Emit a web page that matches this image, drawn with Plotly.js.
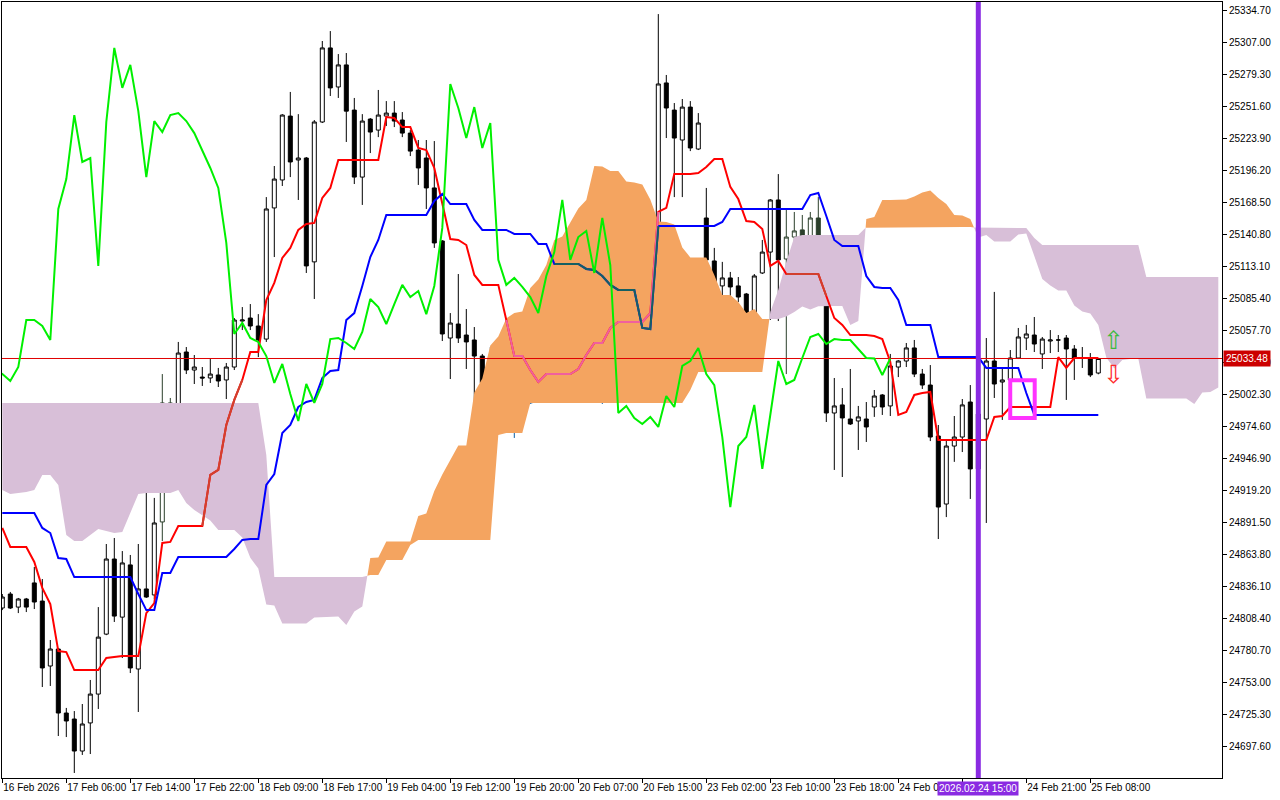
<!DOCTYPE html>
<html><head><meta charset="utf-8">
<script src="https://cdn.plot.ly/plotly-3.0.1.min.js"></script>
<style>html,body{margin:0;padding:0;background:#fff;}#chart{width:1280px;height:800px;}</style>
</head><body><div id="chart"></div>
<script>
// ---- price data (H1 bars, index 0..137) ----
const openP = [24817.5,24829.6,24818.3,24825.3,24839.2,24823.5,24767.3,24782.0,24726.6,24721.4,
24693.7,24718.0,24743.0,24794.9,24859.9,24809.6,24854.8,24764.7,24834.0,24828.8,
24892.0,24995.0,24966.4,25039.1,25023.5,25017.4,25016.6,25019.2,25014.9,25026.1,
25065.9,25068.5,25061.6,25050.3,25163.8,25188.0,25243.3,25205.3,25207.0,25117.1,
25238.2,25302.3,25268.5,25287.6,25248.5,25190.5,25240.7,25231.2,25243.3,25245.9,
25239.9,25228.6,25213.9,25207.0,25181.1,25135.2,25051.2,25063.3,25053.8,25049.5,
25035.6,25012.3,25028.7,25002.7,24981.1,25010.5,24995.0,25035.6,25050.3,25051.2,
25046.9,25041.7,25056.4,25082.4,25078.8,25056.4,25079.7,25098.9,25084.1,25091.1,
25070.2,25096.3,25149.9,25272.0,25248.5,25222.6,25251.1,25214.8,25155.1,25117.9,
25096.3,25103.2,25096.3,25089.3,25072.8,25107.5,25125.6,25170.7,25119.6,25138.6,
25144.8,25107.5,25155.1,25114.4,24986.3,24993.3,24981.1,24979.4,24981.1,24991.5,
25001.9,24992.4,25026.1,25031.3,25042.6,25020.0,25010.5,24966.4,24907.5,24957.7,
24965.5,24995.8,24937.9,24981.1,25031.3,25013.1,25014.9,25033.9,25051.2,25053.8,
25037.4,25048.6,25049.5,25051.2,25041.7,25033.9,25033.0,25020.9];
const highP = [24829.6,24831.4,24826.2,24826.2,24853.0,24842.6,24789.8,24782.9,24731.0,24728.3,
24734.4,24755.2,24818.3,24872.9,24878.1,24866.8,24863.4,24872.9,24929.2,24912.8,
25020.0,24999.3,25047.8,25043.4,25036.5,25026.1,25033.0,25025.3,25029.6,25068.5,
25078.0,25080.6,25071.9,25173.2,25200.1,25245.0,25264.2,25245.0,25207.9,25239.9,
25308.3,25316.9,25297.0,25297.9,25259.0,25245.0,25241.6,25265.9,25256.3,25256.3,
25246.8,25231.2,25222.6,25222.6,25221.7,25136.0,25072.8,25106.6,25076.3,25060.7,
25037.4,25043.4,25046.0,25020.9,25016.6,25016.6,25021.8,25059.0,25076.3,25070.2,
25053.8,25059.9,25085.8,25098.0,25091.1,25082.4,25135.2,25126.5,25115.3,25106.6,
25114.4,25151.7,25331.6,25278.9,25254.6,25258.1,25256.3,25245.9,25181.1,25129.2,
25117.1,25108.4,25104.0,25090.2,25106.6,25136.1,25171.5,25193.1,25162.1,25160.3,
25157.7,25160.3,25173.2,25134.3,25016.6,25007.9,25024.4,24992.4,24995.8,25006.2,
25002.7,25037.4,25032.1,25046.9,25049.5,25024.4,25027.8,24975.9,24962.9,24983.7,
24998.4,25010.5,24993.3,25051.2,25091.1,25026.1,25040.8,25059.9,25062.5,25069.4,
25052.1,25058.1,25053.8,25053.8,25045.1,25043.4,25038.2,25034.0];
const lowP = [24815.7,24816.6,24813.1,24814.0,24816.6,24749.1,24750.0,24706.7,24705.8,24674.7,
24690.3,24691.1,24730.1,24794.0,24805.4,24774.2,24761.2,24727.5,24826.2,24825.3,
24875.5,24924.9,24950.8,25020.0,25011.4,25009.7,25012.3,25008.8,24998.4,25023.5,
25058.1,25058.1,25034.7,25047.8,25121.3,25182.8,25190.5,25170.7,25107.5,25085.0,
25237.3,25260.7,25259.0,25220.9,25184.5,25166.4,25211.3,25225.1,25234.7,25233.8,
25225.1,25208.7,25183.7,25162.9,25129.2,25048.6,25015.7,25046.9,25024.4,24987.2,
24971.6,24990.7,24989.8,24971.6,24964.7,24973.4,24994.1,25021.8,25030.5,25027.8,
25038.2,25040.8,25053.8,25073.7,25046.9,24994.1,25066.8,25068.5,25055.5,25057.3,
25055.5,25059.9,25144.8,25224.3,25173.2,25173.2,25213.0,25213.9,25114.4,25091.1,
25082.4,25082.4,25082.4,25059.9,25062.5,25106.6,25066.8,25065.9,25020.0,25123.1,
25091.1,25092.8,25098.0,24978.5,24937.0,24930.9,24975.9,24954.3,24961.2,24982.9,
24984.6,24983.7,25017.4,25026.1,25017.4,25007.1,24962.0,24877.2,24896.2,24944.0,
24952.5,24911.9,24928.3,24891.1,24999.3,24980.3,24991.5,25033.0,25040.8,25039.1,
25024.4,25038.2,25039.1,24997.6,25014.9,25025.3,25017.4,25019.8];
const closeP = [24827.0,24817.5,24825.3,24818.3,24822.7,24765.6,24782.0,24726.6,24719.7,24693.7,
24717.1,24743.0,24792.3,24859.9,24810.5,24856.5,24765.6,24834.0,24827.0,24891.1,
24995.0,24966.4,25038.2,25023.5,25026.1,25016.6,25020.0,25014.0,25026.1,25066.8,
25066.8,25061.6,25049.5,25162.9,25188.8,25244.2,25203.6,25207.0,25113.6,25238.2,
25302.3,25267.7,25287.6,25247.6,25190.5,25239.0,25229.5,25244.2,25245.9,25239.0,
25228.6,25213.0,25198.4,25181.1,25133.5,25054.7,25064.2,25051.2,25047.8,25035.6,
25012.3,25028.7,25002.7,24979.4,25011.4,24995.0,25011.4,25050.3,25051.2,25046.9,
25041.7,25056.4,25085.0,25078.0,25063.3,25080.6,25097.2,25086.7,25091.9,25071.9,
25096.3,25146.5,25271.1,25250.3,25224.3,25251.1,25215.7,25237.3,25118.8,25097.2,
25103.2,25095.4,25086.7,25072.8,25104.9,25125.6,25170.7,25118.8,25138.6,25143.9,
25107.5,25155.1,25114.4,24986.3,24992.4,24982.0,24976.8,24982.9,24974.2,25001.0,
24991.5,25027.0,25031.3,25042.6,25020.0,25010.5,24965.5,24904.9,24957.7,24965.5,
24993.3,24937.9,24985.4,25031.3,25011.4,25014.9,25033.9,25052.1,25054.7,25046.0,
25050.3,25049.5,25049.5,25041.7,25033.9,25033.5,25019.2,25033.48];

// ---- Ichimoku lines ----
const tenkan = [24886.8,24870.3,24870.3,24870.3,24857.4,24834.9,24820.9,24780.2,24779.3,24763.8,
24763.8,24763.8,24763.8,24774.2,24775.1,24776.0,24776.0,24776.0,24813.1,24821.8,
24873.8,24874.7,24888.5,24888.5,24888.5,24888.5,24932.7,24937.0,24975.9,24997.6,
25014.9,25039.1,25039.1,25084.1,25098.9,25120.5,25129.2,25144.8,25149.9,25150.8,
25172.4,25181.1,25205.3,25205.3,25205.3,25205.3,25205.3,25205.3,25242.5,25241.6,
25233.8,25233.8,25215.7,25213.9,25198.4,25166.4,25136.9,25136.1,25131.7,25105.8,
25097.2,25097.2,25097.2,25066.8,25035.6,25035.6,25023.5,25013.1,25020.0,25020.0,
25020.0,25020.0,25024.4,25036.5,25046.9,25046.9,25059.9,25065.1,25065.1,25065.1,
25065.1,25072.8,25160.3,25163.8,25193.1,25193.1,25193.1,25194.0,25199.2,25206.2,
25206.2,25182.0,25171.5,25152.5,25151.7,25145.6,25113.6,25117.9,25106.6,25106.6,
25106.6,25106.6,25106.6,25087.6,25068.5,25062.5,25053.8,25053.8,25053.8,25052.9,
25050.3,25030.5,24984.6,24987.2,25001.9,25003.6,25004.5,24962.9,24962.9,24962.9,
24962.9,24962.9,24962.9,24962.9,24982.9,24983.7,24991.5,24991.5,24991.5,24991.5,
24991.5,24991.5,25034.7,25025.3,25033.9,25033.9,25033.9,25033.9];
const kijun = [24899.7,24899.7,24899.7,24899.7,24899.7,24886.8,24882.4,24860.8,24859.9,24844.3,
24844.3,24844.3,24844.3,24844.3,24844.3,24844.3,24844.3,24829.6,24815.7,24815.7,
24847.8,24847.8,24861.6,24861.6,24861.6,24861.6,24861.6,24861.6,24861.6,24868.6,
24876.4,24877.2,24877.2,24924.0,24933.5,24969.0,24975.9,24991.5,24995.8,24997.6,
25016.6,25022.7,25023.5,25066.8,25072.8,25096.3,25121.3,25136.1,25157.7,25157.7,
25157.7,25157.7,25157.7,25157.7,25169.8,25175.9,25167.2,25167.2,25167.2,25153.4,
25144.8,25144.8,25144.8,25144.8,25141.3,25141.3,25141.3,25132.6,25132.6,25115.3,
25115.3,25115.3,25115.3,25111.0,25110.1,25104.9,25097.2,25092.8,25092.8,25092.8,
25059.9,25059.0,25148.2,25148.2,25148.2,25148.2,25148.2,25148.2,25148.2,25148.2,
25151.7,25162.9,25162.9,25162.9,25162.9,25162.9,25162.9,25162.9,25162.9,25162.9,
25162.9,25175.0,25176.7,25156.8,25136.1,25130.9,25130.9,25130.9,25104.9,25095.4,
25094.5,25094.5,25084.1,25062.5,25062.5,25062.5,25062.5,25034.7,25034.7,25034.7,
25034.7,25034.7,25034.7,25025.3,25025.3,25025.3,25025.3,25025.3,25003.6,24984.6,
24984.6,24984.6,24984.6,24984.6,24984.6,24984.6,24984.6,24984.6];
// Senkou spans as plotted (already shifted 26 bars ahead), index 0..152
const senkouA = [24919.7,24916.2,24917.1,24918.0,24919.7,24932.7,24932.7,24924.0,24880.7,24875.5,
24875.5,24880.7,24885.9,24884.2,24882.4,24883.3,24900.6,24916.2,24917.1,24917.1,
24917.1,24917.1,24919.7,24908.4,24902.3,24898.0,24893.3,24885.0,24885.0,24885.0,
24878.6,24860.9,24851.7,24820.5,24819.6,24804.1,24804.1,24804.1,24804.1,24809.3,
24809.7,24810.2,24810.2,24802.8,24814.4,24818.8,24860.8,24861.3,24875.1,24875.1,
24875.1,24875.1,24897.2,24899.3,24918.8,24933.1,24945.7,24958.2,24958.2,25004.1,
25016.2,25044.8,25052.6,25068.2,25072.9,25074.2,25094.5,25101.9,25114.4,25136.1,
25139.1,25150.8,25163.3,25170.7,25200.1,25199.7,25195.8,25195.8,25186.7,25185.8,
25184.1,25171.2,25152.1,25151.7,25149.5,25129.6,25121.0,25121.0,25121.0,25105.8,
25088.5,25088.5,25082.4,25072.9,25076.3,25067.7,25067.7,25067.7,25069.9,25073.8,
25078.5,25075.9,25078.6,25079.0,25079.0,25079.0,25062.5,25065.9,25154.3,25156.0,
25170.7,25170.7,25170.7,25171.1,25173.7,25177.2,25179.0,25172.5,25167.2,25157.7,
25157.3,25154.3,25138.3,25140.4,25134.8,25134.8,25134.8,25140.8,25141.7,25122.2,
25102.3,25096.7,25092.4,25092.4,25079.4,25074.2,25072.4,25062.5,25034.4,25024.9,
25032.2,25033.1,25033.5,24998.8,24998.8,24998.8,24998.8,24998.8,24998.8,24994.1,
25004.1,25004.5,25008.4];
const senkouB = [24995.0,24995.0,24995.0,24995.0,24995.0,24995.0,24995.0,24995.0,24995.0,24995.0,
24995.0,24995.0,24995.0,24995.0,24995.0,24995.0,24995.0,24995.0,24995.0,24995.0,
24995.0,24995.0,24995.0,24995.0,24995.0,24995.0,24995.0,24995.0,24995.0,24995.0,
24995.0,24995.0,24995.0,24950.0,24844.3,24844.3,24844.3,24844.3,24844.3,24844.3,
24844.3,24844.3,24844.3,24844.3,24844.3,24844.3,24846.1,24846.1,24859.1,24859.1,
24859.1,24872.0,24876.4,24876.4,24876.4,24876.4,24876.4,24876.4,24876.4,24876.4,
24876.4,24876.4,24967.3,24969.0,24969.0,24969.0,24995.0,24995.0,24995.0,24995.0,
24995.0,24995.0,24995.0,24995.0,24995.0,24995.0,24995.0,24995.0,24995.0,24995.0,
24995.0,24995.0,24995.0,24995.0,24995.0,24995.0,25006.2,25021.8,25021.8,25021.8,
25021.8,25021.8,25021.8,25021.8,25021.8,25021.8,25073.7,25092.8,25117.1,25138.6,
25140.4,25140.4,25140.4,25140.4,25140.4,25140.4,25140.4,25140.4,25147.3,25147.3,
25147.3,25147.3,25147.3,25147.3,25147.3,25147.3,25147.3,25147.3,25147.3,25147.3,
25147.3,25147.3,25146.5,25146.5,25146.5,25146.5,25146.5,25146.5,25146.5,25137.8,
25131.7,25131.7,25131.7,25131.7,25131.7,25131.7,25131.7,25131.7,25131.7,25131.7,
25131.7,25131.7,25131.7,25104.0,25104.0,25104.0,25104.0,25104.0,25104.0,25104.0,
25104.0,25104.0,25104.0];

// ---- axes / labels ----
const tickBars = [0,8,16,24,32,40,48,56,64,72,80,88,96,104,112,120,128,136];
const tickLabels = ['16 Feb 2026','17 Feb 06:00','17 Feb 14:00','17 Feb 22:00','18 Feb 09:00','18 Feb 17:00',
 '19 Feb 04:00','19 Feb 12:00','19 Feb 20:00','20 Feb 07:00','20 Feb 15:00','23 Feb 02:00','23 Feb 10:00',
 '23 Feb 18:00','24 Feb 05:00','','24 Feb 21:00','25 Feb 08:00'];
const priceTicks = [25334.70,25307.00,25279.30,25251.60,25223.90,25196.20,25168.50,25140.80,25113.10,
 25085.40,25057.70,25030.00,25002.30,24974.60,24946.90,24919.20,24891.50,24863.80,24836.10,24808.40,
 24780.70,24753.00,24725.30,24697.60];
const lastPrice = 25033.48;
const markerBar = 122;
const markerLabel = '2026.02.24 15:00';
const boxBars = [125.99, 129.05];
const boxPrices = [24982.0, 25014.6];
const signalBars = [138.9, 138.9];
const signalPrices = [25049.1, 25019.6];

// ---- build ----
const FONT = 'Liberation Sans, Arial, sans-serif';
const xRange = [-0.0375, 152.4625];
const yRange = [24670.35, 25342.06];
const idx = closeP.map((_, i) => i);

function candleTrace(sel, lineCol, upFill, dnFill) {
  const ks = idx.filter(sel);
  return {
    type: 'candlestick', x: ks, open: ks.map(k => openP[k]), high: ks.map(k => highP[k]),
    low: ks.map(k => lowP[k]), close: ks.map(k => closeP[k]),
    increasing: {line: {color: lineCol, width: 1}, fillcolor: upFill},
    decreasing: {line: {color: lineCol, width: 1}, fillcolor: dnFill},
    whiskerwidth: 0, hoverinfo: 'skip', showlegend: false
  };
}
const inOrange = k => k >= 61 && k <= 81;
const inThistle = k => (k >= 20 && k <= 21) || (k >= 98 && k <= 102);

function cloudTraces(A, B, up, color) {
  const n = Math.min(A.length, B.length);
  const pts = [];
  for (let k = 0; k < n; k++) {
    pts.push([k, A[k], B[k]]);
    if (k < n - 1) {
      const d0 = A[k] - B[k], d1 = A[k + 1] - B[k + 1];
      if (d0 * d1 < 0) {
        const t = d0 / (d0 - d1);
        const v = A[k] + t * (A[k + 1] - A[k]);
        pts.push([k + t, v, v]);
      }
    }
  }
  const out = [];
  let run = [];
  const flush = () => {
    if (run.length > 1) {
      const xs = [], ys = [];
      run.forEach(p => { xs.push(p[0]); ys.push(p[1]); });
      for (let i = run.length - 1; i >= 0; i--) { xs.push(run[i][0]); ys.push(run[i][2]); }
      out.push({type: 'scatter', mode: 'lines', x: xs, y: ys, fill: 'toself', fillcolor: color,
        line: {width: 0, color: color}, hoverinfo: 'skip', showlegend: false});
    }
    run = [];
  };
  pts.forEach(p => {
    const d = p[1] - p[2];
    if (up ? d >= 0 : d <= 0) run.push(p); else flush();
  });
  flush();
  return out;
}

function seg(arr, a, b, color, w) {
  const xs = [], ys = [];
  for (let k = a; k <= b; k++) { xs.push(k); ys.push(arr[k]); }
  return {type: 'scatter', mode: 'lines', x: xs, y: ys, line: {color: color, width: w},
    hoverinfo: 'skip', showlegend: false};
}

const traces = [];
traces.push(...cloudTraces(senkouA, senkouB, false, '#D8BFD8'));
traces.push(...cloudTraces(senkouA, senkouB, true, '#F4A460'));
traces.push({type: 'scatter', mode: 'lines', x: xRange, y: [lastPrice, lastPrice],
  line: {color: '#E00000', width: 1}, hoverinfo: 'skip', showlegend: false});
traces.push(candleTrace(k => !inOrange(k) && !inThistle(k), '#000000', '#FFFFFF', '#000000'));
traces.push(candleTrace(inOrange, '#0B5FA5', '#FFFFFF', '#0B5FA5'));
traces.push(candleTrace(inThistle, '#2B3F2B', '#FFFFFF', '#2B3F2B'));
traces.push(seg(tenkan, 0, tenkan.length - 1, '#FF0000', 2));
traces.push(seg(tenkan, 25, 30, '#D2402E', 2));
traces.push(seg(tenkan, 98, 103, '#D2402E', 2));
traces.push(seg(kijun, 0, kijun.length - 1, '#0000FF', 2));
traces.push(seg(tenkan, 63, 82, '#F0609E', 2));
traces.push(seg(kijun, 69, 82, '#155F63', 2));
traces.push({type: 'scatter', mode: 'lines', x: closeP.map((_, i) => i - 26), y: closeP,
  line: {color: '#00F000', width: 2}, hoverinfo: 'skip', showlegend: false});

const layout = {
  width: 1280, height: 800,
  margin: {l: 2, r: 58, t: 2, b: 22, pad: 0},
  paper_bgcolor: '#FFFFFF', plot_bgcolor: '#FFFFFF',
  showlegend: false, boxgap: 0.5, boxgroupgap: 0, dragmode: false,
  xaxis: {range: xRange, tickmode: 'array', tickvals: tickBars, ticktext: tickLabels,
    ticks: 'outside', ticklen: 4, tickcolor: '#000', tickwidth: 1,
    ticklabelposition: 'outside right', tickangle: 0,
    showline: true, linecolor: '#000', linewidth: 1, mirror: true,
    showgrid: false, zeroline: false, rangeslider: {visible: false}, fixedrange: true,
    tickfont: {family: FONT, size: 10, color: '#000'}},
  yaxis: {range: yRange, side: 'right', tickmode: 'array', tickvals: priceTicks,
    ticktext: priceTicks.map(v => v.toFixed(2)),
    ticks: 'outside', ticklen: 4, tickcolor: '#000', tickwidth: 1,
    showline: true, linecolor: '#000', linewidth: 1, mirror: true,
    showgrid: false, zeroline: false, fixedrange: true,
    tickfont: {family: FONT, size: 10, color: '#000'}},
  shapes: [
    {type: 'rect', xref: 'x', yref: 'y', x0: boxBars[0], x1: boxBars[1], y0: boxPrices[0], y1: boxPrices[1],
      line: {color: '#FF33FF', width: 4}, layer: 'above'},
    {type: 'line', xref: 'x', yref: 'paper', x0: markerBar, x1: markerBar, y0: 0, y1: 1,
      line: {color: '#8A2BE2', width: 5}, layer: 'above'}
  ],
  annotations: [
    {xref: 'paper', x: 1, xanchor: 'left', xshift: 1, yref: 'y', y: lastPrice, yanchor: 'middle',
      text: lastPrice.toFixed(2), showarrow: false, bgcolor: '#CC0000', borderpad: 2,
      font: {family: FONT, size: 10, color: '#FFFFFF'}},
    {xref: 'x', x: markerBar, xanchor: 'center', yref: 'paper', y: 0, yanchor: 'top', yshift: -3,
      text: markerLabel, showarrow: false, bgcolor: '#8A2BE2', borderpad: 1,
      font: {family: FONT, size: 10, color: '#FFFFFF'}},
    {xref: 'x', x: signalBars[0], yref: 'y', y: signalPrices[0], text: '\u21E7', showarrow: false,
      borderpad: 0, font: {family: 'DejaVu Sans', size: 25, color: '#3DBB3D'}},
    {xref: 'x', x: signalBars[1], yref: 'y', y: signalPrices[1], text: '\u21E9', showarrow: false,
      borderpad: 0, font: {family: 'DejaVu Sans', size: 25, color: '#FF2A2A'}}
  ]
};
Plotly.newPlot('chart', traces, layout, {staticPlot: true, displayModeBar: false});
</script>
</body></html>
